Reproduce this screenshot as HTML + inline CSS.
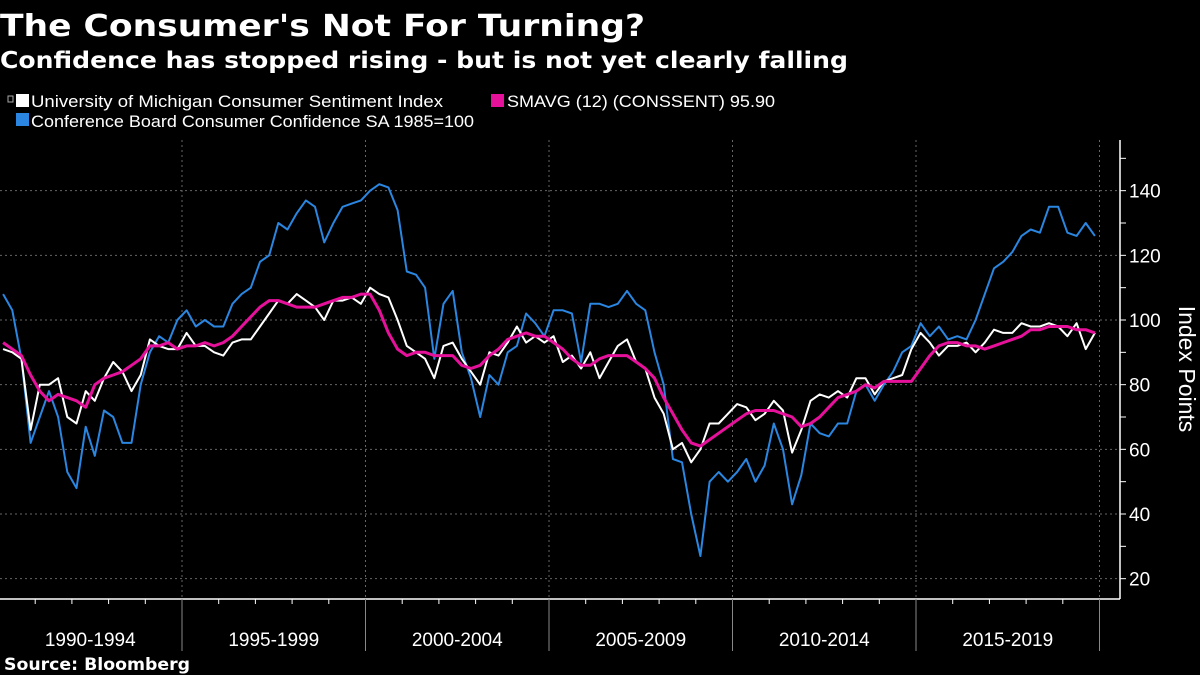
<!DOCTYPE html>
<html><head><meta charset="utf-8"><style>
html,body{margin:0;padding:0;background:#000;}
svg{display:block;}
text{font-family:"Liberation Sans",sans-serif;fill:#fff;}
</style></head><body>
<svg id="chart" width="1200" height="675" viewBox="0 0 1200 675">
<rect width="1200" height="675" fill="#000"/>
<text x="0" y="36" font-size="30" font-weight="bold" style="font-family:'DejaVu Sans','Liberation Sans',sans-serif" textLength="645" lengthAdjust="spacingAndGlyphs">The Consumer's Not For Turning?</text>
<text x="0" y="68" font-size="23" font-weight="bold" style="font-family:'DejaVu Sans','Liberation Sans',sans-serif" textLength="848" lengthAdjust="spacingAndGlyphs">Confidence has stopped rising - but is not yet clearly falling</text>
<g>
 <g>
  <rect x="8" y="96" width="5" height="6" fill="none" stroke="#aaa" stroke-width="1"/>
  <rect x="16" y="94" width="13" height="13" fill="#fff"/>
  <text x="31" y="107" font-size="17" textLength="412" lengthAdjust="spacingAndGlyphs">University of Michigan Consumer Sentiment Index</text>
 </g>
 <g>
  <rect x="491" y="94" width="13" height="13" fill="#e6119b"/>
  <text x="507" y="107" font-size="17" textLength="268" lengthAdjust="spacingAndGlyphs">SMAVG (12) (CONSSENT) 95.90</text>
 </g>
 <g>
  <rect x="16" y="113" width="13" height="13" fill="#2a86e0"/>
  <text x="31" y="127" font-size="17" textLength="443" lengthAdjust="spacingAndGlyphs">Conference Board Consumer Confidence SA 1985=100</text>
 </g>
</g>
<g id="grid"></g>
<g id="series"></g>
<g id="axes"></g>
<text x="1185" y="369" font-size="23" text-anchor="middle" transform="rotate(90 1185 369)" dominant-baseline="middle">Index Points</text>
<text x="4" y="670" font-size="17" font-weight="bold" style="font-family:'DejaVu Sans','Liberation Sans',sans-serif" textLength="186" lengthAdjust="spacingAndGlyphs">Source: Bloomberg</text>
</svg>
<script>
const startYear = 1990;
const yTicks = [20, 40, 60, 80, 100, 120, 140];
const periodLabels = ["1990-1994","1995-1999","2000-2004","2005-2009","2010-2014","2015-2019"];
// quarterly values 1990Q1..2019Q4
const umich = [91,90,88,66, 80,80,82,70, 68,78,75,82, 87,84,78,83, 94,92,91,91,
 96,92,92,90, 89,93,94,94, 98,102,106,105, 108,106,104,100, 106,106,107,105,
 110,108,107,100, 92,90,88,82, 92,93,88,84, 80,90,89,93, 98,93,95,93,
 95,87,89,85, 90,82,87,92, 94,87,85,76, 71,60,62,56, 60,68,68,71,
 74,73,69,71, 75,72,59,66, 75,77,76,78, 76,82,82,77, 81,82,83,91,
 96,93,89,92, 92,93,90,93, 97,96,96,99, 98,98,99,98, 95,99,91,96];
const confBoard = [108,103,88,62, 70,78,70,53, 48,67,58,72, 70,62,62,80, 90,95,93,100,
 103,98,100,98, 98,105,108,110, 118,120,130,128, 133,137,135,124, 130,135,136,137,
 140,142,141,134, 115,114,110,88, 105,109,90,82, 70,83,80,90, 92,102,99,95,
 103,103,102,87, 105,105,104,105, 109,105,103,90, 80,57,56,40, 27,50,53,50,
 53,57,50,55, 68,60,43,52, 68,65,64,68, 68,78,80,75, 80,84,90,92,
 99,95,98,94, 95,94,100,108, 116,118,121,126, 128,127,135,135, 127,126,130,126];
const smavg = [93,91,89,83, 78,75,77,76, 75,73,80,82, 83,84,86,88, 92,92,93,91,
 92,92,93,92, 93,95,98,101, 104,106,106,105, 104,104,104,105, 106,107,107,108,
 108,103,96,91, 89,90,90,89, 89,89,86,85, 86,89,91,94, 95,96,95,95,
 93,91,88,86, 86,88,89,89, 89,87,85,82, 76,71,66,62, 61,63,65,67,
 69,71,72,72, 72,71,70,67, 68,70,73,76, 77,78,80,79, 81,81,81,81,
 85,89,92,93, 93,92,92,91, 92,93,94,95, 97,97,98,98, 98,97,97,96];

const NS = "http://www.w3.org/2000/svg";
const plotTop = 140, plotBottom = 599, plotRight = 1120;
function xScale(t){ return (t - startYear) * 36.7 - 1.5; }
function yScale(v){ return 320 - (v - 100) * 3.2333; }
function mk(tag, attrs, parent){ const e = document.createElementNS(NS, tag); for (const k in attrs) e.setAttribute(k, attrs[k]); parent.appendChild(e); return e; }

const grid = document.getElementById('grid');
yTicks.forEach(v => {
  const l = mk('line', {x1:0, x2:plotRight, y1:yScale(v), y2:yScale(v), stroke:'#666', 'stroke-width':1, 'stroke-dasharray':'2,3'}, grid);
  
  
});
for (let i = 1; i <= periodLabels.length; i++) {
  const x = xScale(startYear + 5 * i);
  const l = mk('line', {x1:x, x2:x, y1:plotTop, y2:plotBottom, stroke:'#666', 'stroke-width':1, 'stroke-dasharray':'2,3'}, grid);
  
  
}

const series = document.getElementById('series');
function draw(vals, color, w, name){
  const pts = vals.map((v, i) => xScale(startYear + i / 4 + 0.125).toFixed(1) + ',' + yScale(v).toFixed(1)).join(' ');
  const p = mk('polyline', {points:pts, fill:'none', stroke:color, 'stroke-width':w, 'stroke-linejoin':'round'}, series);
  
  
}
draw(confBoard, '#2a86e0', 2, 'conference-board-line');
draw(umich, '#ffffff', 2, 'umich-line');
draw(smavg, '#e6119b', 3, 'smavg-line');

const axes = document.getElementById('axes');
mk('line', {x1:0, x2:plotRight, y1:plotBottom, y2:plotBottom, stroke:'#fff', 'stroke-width':1.5}, axes);
mk('line', {x1:plotRight, x2:plotRight, y1:plotTop, y2:plotBottom, stroke:'#fff', 'stroke-width':1.5}, axes);
for (let v = 20; v <= 150; v += 10) {
  const t = mk('line', {x1:plotRight, x2:plotRight + 6, y1:yScale(v), y2:yScale(v), stroke:'#fff', 'stroke-width':1}, axes);
  
  
}
yTicks.forEach(v => {
  const t = mk('text', {x:1129, y:yScale(v) + 7, 'font-size':19}, axes);
  t.textContent = v;
  
  
});
for (let y = 0; y <= 30; y++) {
  const x = xScale(startYear + y);
  const major = y % 5 === 0;
  const t = mk('line', {x1:x, x2:x, y1:plotBottom, y2:major ? 651 : plotBottom + 5, stroke:major ? '#888' : '#fff', 'stroke-width':1}, axes);
  
  
}
periodLabels.forEach((lab, i) => {
  const t = mk('text', {x:xScale(startYear + 5 * i + 2.5), y:646, 'font-size':19, 'text-anchor':'middle'}, axes);
  t.textContent = lab;
  
  
});
</script>
</body></html>
